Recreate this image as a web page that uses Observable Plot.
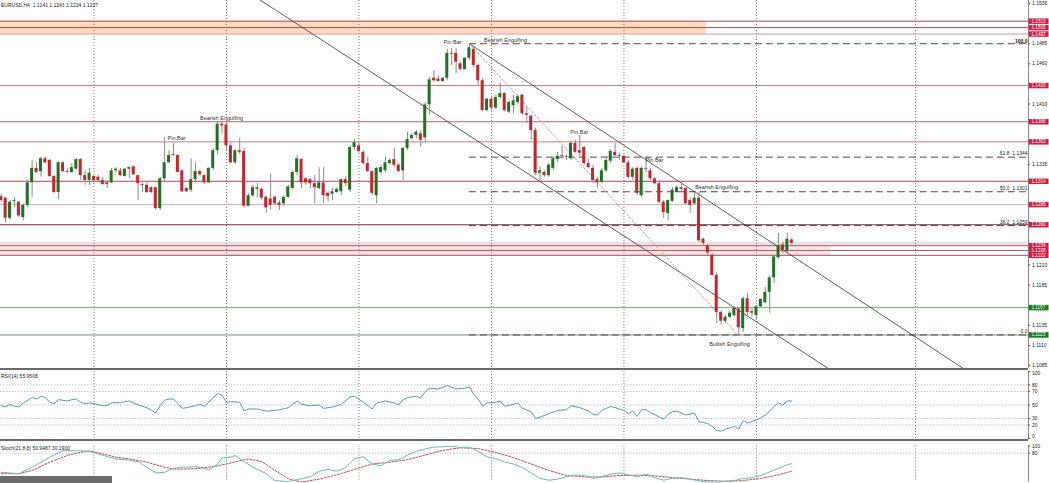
<!DOCTYPE html>
<html><head><meta charset="utf-8">
<script src="https://cdn.jsdelivr.net/npm/d3@7"></script>
<script src="https://cdn.jsdelivr.net/npm/@observablehq/plot@0.6"></script>
<style>
body{margin:0;background:#fff;}
#chart{width:1049px;position:relative;}
#chart svg{display:block;}
.sep{height:2px;background:#6a6a6a;width:1028px;}
#wm{position:absolute;left:0;top:476px;width:112px;height:7px;background:#6b6b6b;}
</style></head><body><div id="chart"></div>
<script>
// ---------- data ----------
const opens = [
1.1295,1.1293,1.1268,1.1289,1.1288,1.1269,1.1284,1.1312,1.1330,1.1326,
1.1342,1.1340,1.1320,1.1300,1.1337,1.1326,1.1325,1.1329,1.1341,1.1321,
1.1315,1.1320,1.1319,1.1315,1.1312,1.1312,1.1327,1.1327,1.1320,1.1329,
1.1332,1.1321,1.1310,1.1309,1.1306,1.1306,1.1280,1.1317,1.1337,1.1347,
1.1346,1.1327,1.1305,1.1303,1.1316,1.1326,1.1321,1.1312,1.1330,1.1352,
1.1385,1.1384,1.1358,1.1337,1.1352,1.1351,1.1283,1.1296,1.1306,1.1304,
1.1294,1.1292,1.1294,1.1287,1.1286,1.1294,1.1305,1.1325,1.1341,1.1317,
1.1316,1.1311,1.1305,1.1312,1.1299,1.1298,1.1300,1.1301,1.1316,1.1303,
1.1356,1.1358,1.1350,1.1336,1.1326,1.1296,1.1325,1.1327,1.1336,1.1341,
1.1334,1.1327,1.1355,1.1367,1.1371,1.1373,1.1368,1.1409,1.1442,1.1441,
1.1438,1.1442,1.1473,1.1473,1.1460,1.1453,1.1467,1.1478,1.1458,1.1439,
1.1402,1.1416,1.1405,1.1418,1.1423,1.1400,1.1408,1.1412,1.1421,1.1398,
1.1395,1.1377,1.1324,1.1325,1.1321,1.1330,1.1341,1.1346,1.1345,1.1342,
1.1361,1.1352,1.1356,1.1336,1.1330,1.1316,1.1313,1.1327,1.1339,1.1350,
1.1346,1.1345,1.1337,1.1319,1.1330,1.1296,1.1330,1.1327,1.1317,1.1311,
1.1288,1.1274,1.1289,1.1300,1.1306,1.1305,1.1290,1.1286,1.1293,1.1242,
1.1234,1.1222,1.1197,1.1151,1.1140,1.1145,1.1147,1.1155,1.1131,1.1168,
1.1152,1.1147,1.1158,1.1163,1.1176,1.1194,1.1219,1.1235,1.1227,1.1241];
const highs = [
1.1298,1.1294,1.1290,1.1294,1.1289,1.1286,1.1315,1.1340,1.1337,1.1344,
1.1344,1.1341,1.1321,1.1338,1.1338,1.1330,1.1336,1.1342,1.1342,1.1327,
1.1330,1.1321,1.1321,1.1319,1.1315,1.1330,1.1331,1.1330,1.1330,1.1332,
1.1333,1.1321,1.1312,1.1312,1.1307,1.1307,1.1319,1.1368,1.1352,1.1361,
1.1347,1.1328,1.1306,1.1342,1.1337,1.1328,1.1322,1.1331,1.1355,1.1387,
1.1387,1.1387,1.1361,1.1353,1.1367,1.1355,1.1299,1.1309,1.1311,1.1306,
1.1296,1.1323,1.1296,1.1290,1.1296,1.1309,1.1327,1.1346,1.1342,1.1319,
1.1317,1.1321,1.1331,1.1331,1.1301,1.1305,1.1306,1.1317,1.1320,1.1358,
1.1366,1.1363,1.1352,1.1344,1.1327,1.1331,1.1334,1.1344,1.1342,1.1355,
1.1336,1.1356,1.1375,1.1373,1.1377,1.1377,1.1412,1.1443,1.1452,1.1445,
1.1443,1.1478,1.1479,1.1479,1.1462,1.1468,1.1485,1.1482,1.1460,1.1442,
1.1417,1.1418,1.1421,1.1436,1.1424,1.1414,1.1421,1.1422,1.1422,1.1406,
1.1396,1.1380,1.1332,1.1327,1.1336,1.1344,1.1350,1.1358,1.1347,1.1363,
1.1365,1.1371,1.1357,1.1342,1.1334,1.1319,1.1330,1.1345,1.1353,1.1361,
1.1349,1.1346,1.1340,1.1331,1.1332,1.1332,1.1344,1.1330,1.1319,1.1315,
1.1290,1.1291,1.1306,1.1309,1.1311,1.1306,1.1293,1.1299,1.1300,1.1243,
1.1235,1.1224,1.1201,1.1153,1.1147,1.1152,1.1158,1.1157,1.1170,1.1175,
1.1156,1.1160,1.1168,1.1182,1.1197,1.1222,1.1249,1.1238,1.1249,1.1243];
const lows = [
1.1288,1.1262,1.1265,1.1281,1.1269,1.1265,1.1281,1.1294,1.1324,1.1319,
1.1336,1.1319,1.1299,1.1291,1.1325,1.1324,1.1324,1.1328,1.1315,1.1309,
1.1309,1.1314,1.1312,1.1309,1.1305,1.1311,1.1324,1.1320,1.1319,1.1317,
1.1321,1.1290,1.1300,1.1299,1.1299,1.1278,1.1278,1.1312,1.1336,1.1345,
1.1325,1.1300,1.1300,1.1300,1.1312,1.1320,1.1310,1.1311,1.1327,1.1346,
1.1373,1.1352,1.1336,1.1335,1.1347,1.1281,1.1282,1.1294,1.1294,1.1290,
1.1274,1.1278,1.1284,1.1278,1.1283,1.1293,1.1303,1.1321,1.1305,1.1309,
1.1305,1.1286,1.1303,1.1286,1.1288,1.1290,1.1299,1.1296,1.1307,1.1300,
1.1352,1.1349,1.1334,1.1325,1.1296,1.1286,1.1322,1.1325,1.1334,1.1331,
1.1325,1.1315,1.1352,1.1365,1.1367,1.1356,1.1362,1.1396,1.1437,1.1437,
1.1437,1.1439,1.1458,1.1448,1.1452,1.1452,1.1464,1.1455,1.1433,1.1400,
1.1400,1.1402,1.1403,1.1417,1.1400,1.1398,1.1398,1.1409,1.1396,1.1386,
1.1365,1.1321,1.1315,1.1319,1.1319,1.1327,1.1337,1.1342,1.1340,1.1340,
1.1349,1.1344,1.1334,1.1330,1.1311,1.1305,1.1311,1.1325,1.1336,1.1344,
1.1340,1.1336,1.1317,1.1315,1.1296,1.1293,1.1325,1.1315,1.1310,1.1286,
1.1268,1.1265,1.1288,1.1299,1.1300,1.1285,1.1274,1.1284,1.1238,1.1234,
1.1220,1.1196,1.1137,1.1135,1.1137,1.1143,1.1145,1.1122,1.1126,1.1147,
1.1145,1.1141,1.1156,1.1162,1.1150,1.1187,1.1217,1.1224,1.1224,1.1234];
const closes = [
1.1290,1.1268,1.1288,1.1290,1.1271,1.1284,1.1312,1.1330,1.1325,1.1342,
1.1337,1.1320,1.1300,1.1337,1.1326,1.1325,1.1331,1.1341,1.1321,1.1315,
1.1324,1.1315,1.1315,1.1310,1.1310,1.1327,1.1329,1.1321,1.1329,1.1331,
1.1322,1.1311,1.1309,1.1300,1.1300,1.1280,1.1317,1.1337,1.1346,1.1346,
1.1325,1.1301,1.1301,1.1316,1.1326,1.1322,1.1312,1.1330,1.1352,1.1385,
1.1383,1.1358,1.1337,1.1352,1.1350,1.1283,1.1296,1.1306,1.1304,1.1293,
1.1281,1.1284,1.1286,1.1284,1.1294,1.1307,1.1325,1.1342,1.1312,1.1312,
1.1311,1.1306,1.1312,1.1296,1.1295,1.1301,1.1304,1.1316,1.1311,1.1356,
1.1362,1.1351,1.1336,1.1326,1.1299,1.1330,1.1331,1.1337,1.1340,1.1334,
1.1326,1.1355,1.1366,1.1371,1.1375,1.1365,1.1409,1.1440,1.1439,1.1438,
1.1442,1.1473,1.1472,1.1462,1.1453,1.1467,1.1480,1.1458,1.1439,1.1402,
1.1416,1.1405,1.1418,1.1423,1.1402,1.1412,1.1414,1.1419,1.1398,1.1396,
1.1377,1.1324,1.1327,1.1321,1.1334,1.1342,1.1345,1.1345,1.1344,1.1361,
1.1350,1.1349,1.1336,1.1331,1.1315,1.1312,1.1327,1.1340,1.1351,1.1346,
1.1345,1.1337,1.1319,1.1329,1.1299,1.1330,1.1329,1.1317,1.1311,1.1288,
1.1275,1.1290,1.1303,1.1306,1.1304,1.1286,1.1284,1.1293,1.1240,1.1237,
1.1225,1.1197,1.1151,1.1140,1.1145,1.1150,1.1156,1.1132,1.1168,1.1151,
1.1150,1.1158,1.1167,1.1176,1.1194,1.1220,1.1234,1.1228,1.1242,1.1237];

const rsiIdx = [0,1,2,3,4,5,7,8,9,10,11,12,13,15,16,17,18,19,20,21,23,24,25,26,27,28,29,30,32,33,34,35,36,37,38,39,40,41,42,44,45,46,47,48,49,50,51,52,54,55,56,58,60,62,63,65,66,67,68,
70,72,73,75,77,79,80,82,84,85,87,89,90,91,92,94,95,96,97,99,101,103,105,106,107,108,109,110,112,113,114,116,117,118,120,121,122,124,126,128,129,131,133,134,135,136,138,139,141,142,143,144,145,146,147,149,150,151,152,153,155,157,158,159,160,161,162,163,164,166,167,168,169,171,172,173,174,175,176,177,178,179];
const rsiVal = [49,47,51,48,47,53,61,59,63,61,54,52,58,56,58,59,54,52,53,52,49,49,53,54,53,55,56,53,48,46,42,38,49,57,59,59,52,45,46,49,51,48,54,61,67,65,54,55,54,41,44,44,41,42,43,46,51,56,51,
49,50,45,47,51,62,63,54,44,53,56,53,50,58,61,63,60,70,75,74,79,74,75,77,66,59,48,53,54,56,48,51,53,45,40,30,32,37,42,43,49,46,41,36,35,42,48,46,42,37,41,33,43,43,39,32,29,36,40,41,35,38,25,24,22,18,12,11,14,18,14,27,23,28,31,35,41,48,53,50,56,55.95];

const stIdx = [0,4,7,11,14,17,20,23,26,29,31,33,35,37,39,41,44,46,47,49,50,52,53,55,57,60,62,65,66,68,
70,72,74,76,78,80,82,84,86,88,90,92,94,96,98,100,102,104,106,108,110,112,114,116,118,120,122,124,126,128,130,132,134,136,138,140,142,144,146,148,150,152,154,156,158,160,162,164,166,168,170,172,174,176,178,179];
const stMain = [27,23,41,69,87,87,85,74,64,61,56,41,25,27,38,41,43,38,33,50,67,69,74,56,41,23,4,1,4,9,
15,30,35,30,40,65,70,50,45,60,62,75,85,92,97,98,99,96,97,85,70,65,55,50,40,25,10,5,8,15,20,18,10,15,22,25,20,15,22,12,5,10,12,8,3,0,0,2,4,10,12,18,28,38,48,50.95];
const sgIdx = [0,4,7,11,15,18,20,23,26,29,33,37,39,42,45,48,51,54,56,59,62,65,68,
72,76,80,84,88,92,96,100,104,108,112,116,120,124,128,132,136,140,144,148,152,156,160,164,168,172,176,179];
const stSig = [23,23,32,55,74,83,86,78,69,64,55,41,36,36,38,43,50,59,64,57,32,9,0,
8,20,35,50,55,62,75,88,95,93,82,68,50,32,18,14,14,18,19,17,12,8,4,2,4,10,20,30.19];

const srLevels = [1.1513,1.1505,1.1497,1.1433,1.1388,1.1363,1.1314,1.1285,1.1260,1.1234,1.1228,1.1222];
const srColors = ["#a84a5a","#a84a5a","#d898a4","#c87a88","#b86272","#c87a88","#a84a5a","#e0aab4","#8c3040","#b85868","#b85868","#a84a5a"];
const supLevels = [1.1157,1.1123];
const supColors = ["#7aa87a","#7a907a"];
const fibLevels = [1.1485,1.1344,1.1301,1.1259,1.1123];
const fibNames = ["100.0","61.8  1.1344","50.0  1.1301","38.2  1.1259","0.0"];
const priceTicks = [1.1535,1.1485,1.1460,1.1410,1.1335,1.1210,1.1185,1.1135,1.1110,1.1085];
const gridIdx = [21,51,81,111,141,171,207];
const zones = [
  {lo:1.1497, hi:1.1513, end:159.7, fill:"#fcdcbc"},
  {lo:1.1222, hi:1.1234, end:187.8, fill:"#fde2e2"}
];
const upperChannel = [{i:106, p:1.1485},{i:220, p:1.10735}];
const lowerChannel = [{i:55, p:1.15522},{i:190, p:1.10716}];
const swingLine = [{i:106, p:1.1485},{i:167, p:1.1122}];
const patText = ["Pin Bar","Bearish Engulfing","Pin Bar","Bearish Engulfing","Pin Bar","Pin Bar","Bearish Engulfing","Bullish Engulfing"];
const patIdx = [39.7,49.9,102.2,114.2,130.9,147.9,162,164.9];
const patPrice = [1.1368,1.1392,1.1487,1.1489,1.1375,1.1340,1.1306,1.1111];
const rsiLevels = [80,70,50,30,20];
const rsiTicksMid = [80,70,50,30,20];
const rsiTop = [100], rsiBottom = [0];
const stLevels = [80];
const stTicks = [100,80];
const header = "EURUSD,H4  1.1241 1.1243 1.1234 1.1237";
const rsiHeader = "RSI(14) 55.9508";
const stHeader = "Stoch(21,8,8) 50.9487 30.1900";

// ---------- build ----------
const candles = opens.map((o,i)=>({i, o, h:highs[i], l:lows[i], c:closes[i]}));
const rsi = rsiIdx.map((i,k)=>({i, v:rsiVal[k]}));
const stM = stIdx.map((i,k)=>({i, v:stMain[k]}));
const stS = sgIdx.map((i,k)=>({i, v:stSig[k]}));
const bull = "#237023", bear = "#c4262c";
const W = 1049, xDom = [-0.16, 237.35], xAxisAt = 232.6, fibStart = 106;
const font = "'Liberation Sans','DejaVu Sans',sans-serif";
const A = v => () => v;

function panel(h, mt, mb, ydom, marks){
  return Plot.plot({width:W, height:h, marginLeft:0, marginRight:0, marginTop:mt, marginBottom:mb,
    x:{domain:xDom, axis:null}, y:{domain:ydom, axis:null}, color:{type:"identity"},
    style:{fontFamily:font, fontSize:"5px", background:"#fff"}, marks});
}
function axisMarks(ticks, fmt, dy=0){
  return [
    Plot.ruleY(ticks, {y:d=>d, x1:A(xAxisAt), x2:A(xAxisAt+0.45), stroke:"#555"}),
    Plot.text(ticks, {x:A(xAxisAt), y:d=>d, text:fmt, textAnchor:"start", dx:3.5, dy, fontSize:5, fill:"#222"})
  ];
}
const axisLine = Plot.ruleX([xAxisAt], {stroke:"#8a8a8a", strokeWidth:1});
const grid = Plot.ruleX(gridIdx, {stroke:"#555", strokeWidth:0.8, strokeDasharray:"1,2"});

const main = panel(368, 0, 0, [1.10813, 1.15387], [
  Plot.rect(zones, {x1:A(xDom[0]), x2:"end", y1:"lo", y2:"hi", fill:"fill"}),
  Plot.ruleY([closes[closes.length-1]], {x1:A(xDom[0]), x2:A(xAxisAt), stroke:"#e3e3e3", strokeWidth:3}),
  grid,
  Plot.ruleY(srLevels, {y:d=>d, x1:A(xDom[0]), x2:A(xAxisAt), stroke:(d,i)=>srColors[i], strokeWidth:1}),
  Plot.ruleY(supLevels, {y:d=>d, x1:A(xDom[0]), x2:A(xAxisAt), stroke:(d,i)=>supColors[i], strokeWidth:1}),
  Plot.ruleY(fibLevels, {y:d=>d, x1:A(fibStart), x2:A(xAxisAt), stroke:"#3a3a3a", strokeWidth:0.9, strokeDasharray:"7,4"}),
  Plot.line(upperChannel, {x:"i", y:"p", stroke:"#333", strokeWidth:0.8, clip:true}),
  Plot.line(lowerChannel, {x:"i", y:"p", stroke:"#333", strokeWidth:0.8, clip:true}),
  Plot.line(swingLine, {x:"i", y:"p", stroke:"#d88a8a", strokeWidth:0.9, strokeDasharray:"2,2"}),
  Plot.ruleX(candles, {x:"i", y1:"l", y2:"h", stroke:"#8c8c8c", strokeWidth:1}),
  Plot.rect(candles, {x1:d=>d.i-0.34, x2:d=>d.i+0.34, y1:"o", y2:"c", fill:d=>d.c>=d.o?bull:bear}),
  Plot.text(patText, {x:(d,k)=>patIdx[k], y:(d,k)=>patPrice[k], text:d=>d, fontSize:5.5, fill:"#333"}),
  Plot.text(fibNames.slice(1), {x:A(xAxisAt), y:(d,k)=>fibLevels[k+1], text:d=>d, textAnchor:"end", dx:-1, dy:-3.5, fontSize:5, fill:"#222"}),
  Plot.text([fibNames[0]], {x:A(xAxisAt), y:A(fibLevels[0]), text:d=>d, textAnchor:"end", dx:-1, dy:-2, fontSize:5, fontWeight:"bold", fill:"#111"}),
  axisLine,
  ...axisMarks(priceTicks, d=>d.toFixed(4)),
  Plot.ruleY(srLevels, {y:d=>d, x1:A(xAxisAt+0.15), x2:A(xDom[1]-0.1), stroke:"#d21e46", strokeWidth:5.5}),
  Plot.ruleY(supLevels, {y:d=>d, x1:A(xAxisAt+0.15), x2:A(xDom[1]-0.1), stroke:"#1d7a1d", strokeWidth:5.5}),
  Plot.text(srLevels.concat(supLevels), {x:A(xAxisAt), y:d=>d, text:d=>d.toFixed(4), textAnchor:"start", dx:3, fontSize:4.6, fill:"#fff"}),
  Plot.text([header], {frameAnchor:"top-left", textAnchor:"start", dx:0.5, dy:3, fontSize:5, fill:"#222"})
]);

const rsiPlot = panel(69, 1, 1, [0, 100], [
  Plot.ruleY(rsiLevels, {x1:A(xDom[0]), x2:A(xAxisAt), stroke:"#c4c4c4", strokeDasharray:"1.5,1.5"}),
  grid,
  Plot.line(rsi, {x:"i", y:"v", stroke:"#5a96c4", strokeWidth:1}),
  axisLine,
  ...axisMarks(rsiTicksMid, d=>String(d)),
  ...axisMarks(rsiTop, d=>String(d), 2),
  ...axisMarks(rsiBottom, d=>String(d), -2),
  Plot.text([rsiHeader], {frameAnchor:"top-left", textAnchor:"start", dx:0.5, dy:3, fontSize:5, fill:"#222"})
]);

const stPlot = panel(42, 4.5, 1.5, [0, 100], [
  Plot.ruleY(stLevels, {x1:A(xDom[0]), x2:A(xAxisAt), stroke:"#c4c4c4", strokeDasharray:"1.5,1.5"}),
  grid,
  Plot.line(stS, {x:"i", y:"v", stroke:"#c05050", strokeWidth:1, strokeDasharray:"2,1.5"}),
  Plot.line(stM, {x:"i", y:"v", stroke:"#68bdb8", strokeWidth:1}),
  axisLine,
  ...axisMarks(stTicks, d=>String(d)),
  Plot.text([stHeader], {frameAnchor:"top-left", textAnchor:"start", dx:0.5, dy:0.5, fontSize:5, fill:"#222"})
]);

const root = document.getElementById("chart");
root.append(main);
const s1 = document.createElement("div"); s1.className="sep"; root.append(s1);
root.append(rsiPlot);
const s2 = document.createElement("div"); s2.className="sep"; root.append(s2);
root.append(stPlot);
const wm = document.createElement("div"); wm.id="wm"; root.append(wm);
</script></body></html>
